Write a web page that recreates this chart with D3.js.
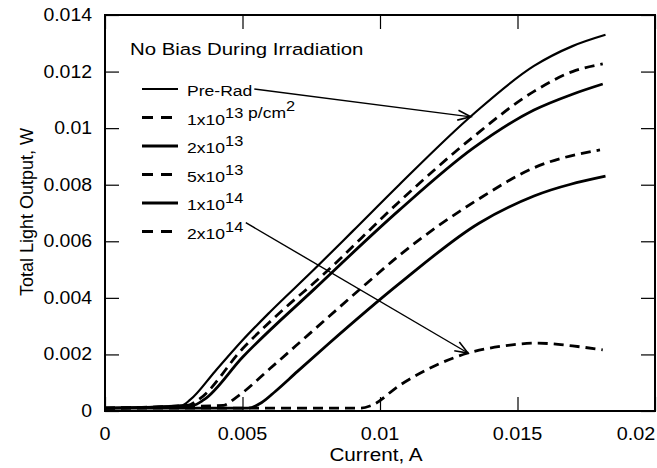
<!DOCTYPE html>
<html lang="en">
<head>
<meta charset="UTF-8">
<title>Total Light Output vs Current</title>
<script src="https://cdn.jsdelivr.net/npm/d3@7"></script>
<style>
  body { margin: 0; background: #fff; }
  text { font-family: "Liberation Sans", Arial, Helvetica, sans-serif; fill: #000; }
</style>
</head>
<body>
<script>
// ---- data ----
const xTicks = [0, 0.005, 0.01, 0.015, 0.02];
const xTickLabels = ['0', '0.005', '0.01', '0.015', '0.02'];
const yTicks = [0, 0.002, 0.004, 0.006, 0.008, 0.01, 0.012, 0.014];
const yTickLabels = ['0', '0.002', '0.004', '0.006', '0.008', '0.01', '0.012', '0.014'];

const legendTitle = 'No Bias During Irradiation';
const seriesNames = ['Pre-Rad', '1x10^13 p/cm^2', '2x10^13', '5x10^13', '1x10^14', '2x10^14'];
const seriesDashed = [false, true, false, true, false, true];

// current (A) and light output (W) per fluence
const currentPreRad = [0, 0.0028, 0.0031, 0.004, 0.005, 0.006, 0.0076, 0.009, 0.0107, 0.0134, 0.0156, 0.017, 0.0182];
const powerPreRad   = [0.0001, 0.0002, 0.0004, 0.0014, 0.0025, 0.0035, 0.0050, 0.00635, 0.0080, 0.0105, 0.0122, 0.0129, 0.0133];

const current1e13 = [0, 0.003, 0.0034, 0.005, 0.0065, 0.0078, 0.0107, 0.0134, 0.0156, 0.017, 0.0181];
const power1e13   = [0.0001, 0.0002, 0.0004, 0.0022, 0.0036, 0.0047, 0.0074, 0.0097, 0.0113, 0.0120, 0.01227];

const current2e13 = [0, 0.0032, 0.0036, 0.005, 0.0076, 0.0107, 0.0134, 0.0156, 0.017, 0.0181];
const power2e13   = [0.0001, 0.0002, 0.0004, 0.0019, 0.0043, 0.0071, 0.0093, 0.01064, 0.0112, 0.01156];

const current5e13 = [0, 0.0043, 0.0048, 0.006, 0.0074, 0.0095, 0.0107, 0.0136, 0.0156, 0.018];
const power5e13   = [0.0001, 0.0002, 0.0005, 0.0015, 0.0027, 0.0045, 0.0055, 0.0075, 0.0086, 0.00923];

const current1e14 = [0, 0.0052, 0.0057, 0.0062, 0.007, 0.0081, 0.0107, 0.0136, 0.0156, 0.0182];
const power1e14   = [0.0001, 0.0001, 0.0003, 0.0007, 0.0014, 0.00235, 0.0045, 0.00664, 0.0076, 0.0083];

const current2e14 = [0, 0.0093, 0.0097, 0.0107, 0.012, 0.0132, 0.0145, 0.0157, 0.017, 0.0181];
const power2e14   = [0.0001, 0.0001, 0.0002, 0.0009, 0.0016, 0.00205, 0.0023, 0.0024, 0.0023, 0.00216];

// arrow tips, in data units (points on the Pre-Rad and 2x10^14 curves)
const arrowTipCurrent = [0.0133, 0.0132];
const arrowTipPower = [0.0104, 0.00205];
const arrowFromSeries = [0, 5];

const seriesCurrents = [currentPreRad, current1e13, current2e13, current5e13, current1e14, current2e14];
const seriesPowers = [powerPreRad, power1e13, power2e13, power5e13, power1e14, power2e14];

// ---- layout ----
const W = 657, H = 468;
const margin = { top: 15, right: 2, bottom: 57, left: 105 };
const width = W - margin.left - margin.right;
const height = H - margin.top - margin.bottom;

// the scanned lettering is a little wider than Arial, so stretch it sideways
function placeText(sel, px, py, sx) {
  return sel.attr('transform', `translate(${px},${py}) scale(${sx},1)`);
}

const svg = d3.select('body').append('svg')
  .attr('width', W)
  .attr('height', H);

const g = svg.append('g')
  .attr('transform', `translate(${margin.left},${margin.top})`);

const x = d3.scaleLinear().domain([0, 0.02]).range([0, width]);
const y = d3.scaleLinear().domain([0, 0.014]).range([height, 0]);

// inward ticks on all four sides
const tickLen = 14;
g.append('g')
  .attr('transform', `translate(0,${height})`)
  .call(d3.axisBottom(x).tickValues(xTicks).tickSizeInner(-tickLen).tickSizeOuter(0).tickFormat(''));
g.append('g')
  .call(d3.axisTop(x).tickValues(xTicks).tickSizeInner(-tickLen).tickSizeOuter(0).tickFormat(''));
g.append('g')
  .call(d3.axisLeft(y).tickValues(yTicks).tickSizeInner(-tickLen).tickSizeOuter(0).tickFormat(''));
g.append('g')
  .attr('transform', `translate(${width},0)`)
  .call(d3.axisRight(y).tickValues(yTicks).tickSizeInner(-tickLen).tickSizeOuter(0).tickFormat(''));

g.selectAll('.domain').remove();
g.selectAll('.tick line').attr('stroke', '#000').attr('stroke-width', 1.2);

// frame
g.append('rect')
  .attr('width', width)
  .attr('height', height)
  .attr('fill', 'none')
  .attr('stroke', '#000')
  .attr('stroke-width', 2);

// tick labels
xTicks.forEach((d, i) => {
  placeText(g.append('text'), Math.min(x(d), width - 19), height + 29, 1.1)
    .attr('text-anchor', 'middle')
    .style('font-size', '18px')
    .text(xTickLabels[i]);
});

yTicks.forEach((d, i) => {
  placeText(g.append('text'), -13, y(d) + 6, 1.08)
    .attr('text-anchor', 'end')
    .style('font-size', '18px')
    .text(yTickLabels[i]);
});

// axis titles
placeText(g.append('text'), width / 2 - 4, height + 50, 1.12)
  .attr('text-anchor', 'middle')
  .style('font-size', '18.5px')
  .text('Current, A');

g.append('text')
  .attr('transform', 'rotate(-90)')
  .attr('x', -height / 2 + 1)
  .attr('y', -72)
  .attr('text-anchor', 'middle')
  .style('font-size', '18px')
  .text('Total Light Output, W');

// curves
const line = d3.line()
  .x(d => x(d[0]))
  .y(d => y(d[1]))
  .curve(d3.curveMonotoneX);

seriesNames.forEach((name, i) => {
  const pts = seriesCurrents[i].map((c, j) => [c, seriesPowers[i][j]]);
  g.append('path')
    .datum(pts)
    .attr('fill', 'none')
    .attr('stroke', '#000')
    .attr('stroke-width', i === 0 ? 2.2 : 2.8)
    .attr('stroke-dasharray', seriesDashed[i] ? '10,6' : null)
    .attr('d', line);
});

// legend
const legendX = 37, legendY0 = 74, legendStep = 28.5, legendSx = 1.17;

placeText(g.append('text'), 25, 40, 1.2)
  .style('font-size', '17px')
  .text(legendTitle);

const legendTexts = [];
seriesNames.forEach((name, i) => {
  const ly = legendY0 + i * legendStep;
  g.append('line')
    .attr('x1', legendX)
    .attr('x2', legendX + 36)
    .attr('y1', ly)
    .attr('y2', ly)
    .attr('stroke', '#000')
    .attr('stroke-width', i === 0 ? 2.2 : 2.8)
    .attr('stroke-dasharray', seriesDashed[i] ? '11,8' : null);

  const tx = legendX + 45, ty = ly + 7;
  const t = placeText(g.append('text'), tx, ty, legendSx)
    .style('font-size', '15px');
  // split "a^b c^d" into base text and superscripts
  name.split(/(\^\d+)/).filter(s => s.length).forEach(part => {
    if (part[0] === '^') {
      t.append('tspan').attr('dy', -7).style('font-size', '14px').text(part.slice(1));
      t.append('tspan').attr('dy', 7).text('');
    } else {
      t.append('tspan').text(part);
    }
  });
  legendTexts.push({ node: t.node(), tx: tx, ty: ty, ly: ly });
});

// arrows from legend labels to their curves
const defs = svg.append('defs');
defs.append('marker')
  .attr('id', 'head')
  .attr('markerUnits', 'userSpaceOnUse')
  .attr('viewBox', '-14 -7 16 14')
  .attr('markerWidth', 16)
  .attr('markerHeight', 14)
  .attr('orient', 'auto')
  .append('path')
  .attr('d', 'M-13,-5 L0,0 L-13,5')
  .attr('fill', 'none')
  .attr('stroke', '#000')
  .attr('stroke-width', 1.6);

arrowFromSeries.forEach((si, k) => {
  const lt = legendTexts[si];
  const bb = lt.node.getBBox();
  const sx = lt.tx + (bb.x + bb.width) * legendSx + 2;
  const sy = si === 0 ? lt.ly : lt.ty + bb.y + 4;
  g.append('line')
    .attr('x1', sx)
    .attr('y1', sy)
    .attr('x2', x(arrowTipCurrent[k]))
    .attr('y2', y(arrowTipPower[k]))
    .attr('stroke', '#000')
    .attr('stroke-width', 1.4)
    .attr('marker-end', 'url(#head)');
});
</script>
</body>
</html>
